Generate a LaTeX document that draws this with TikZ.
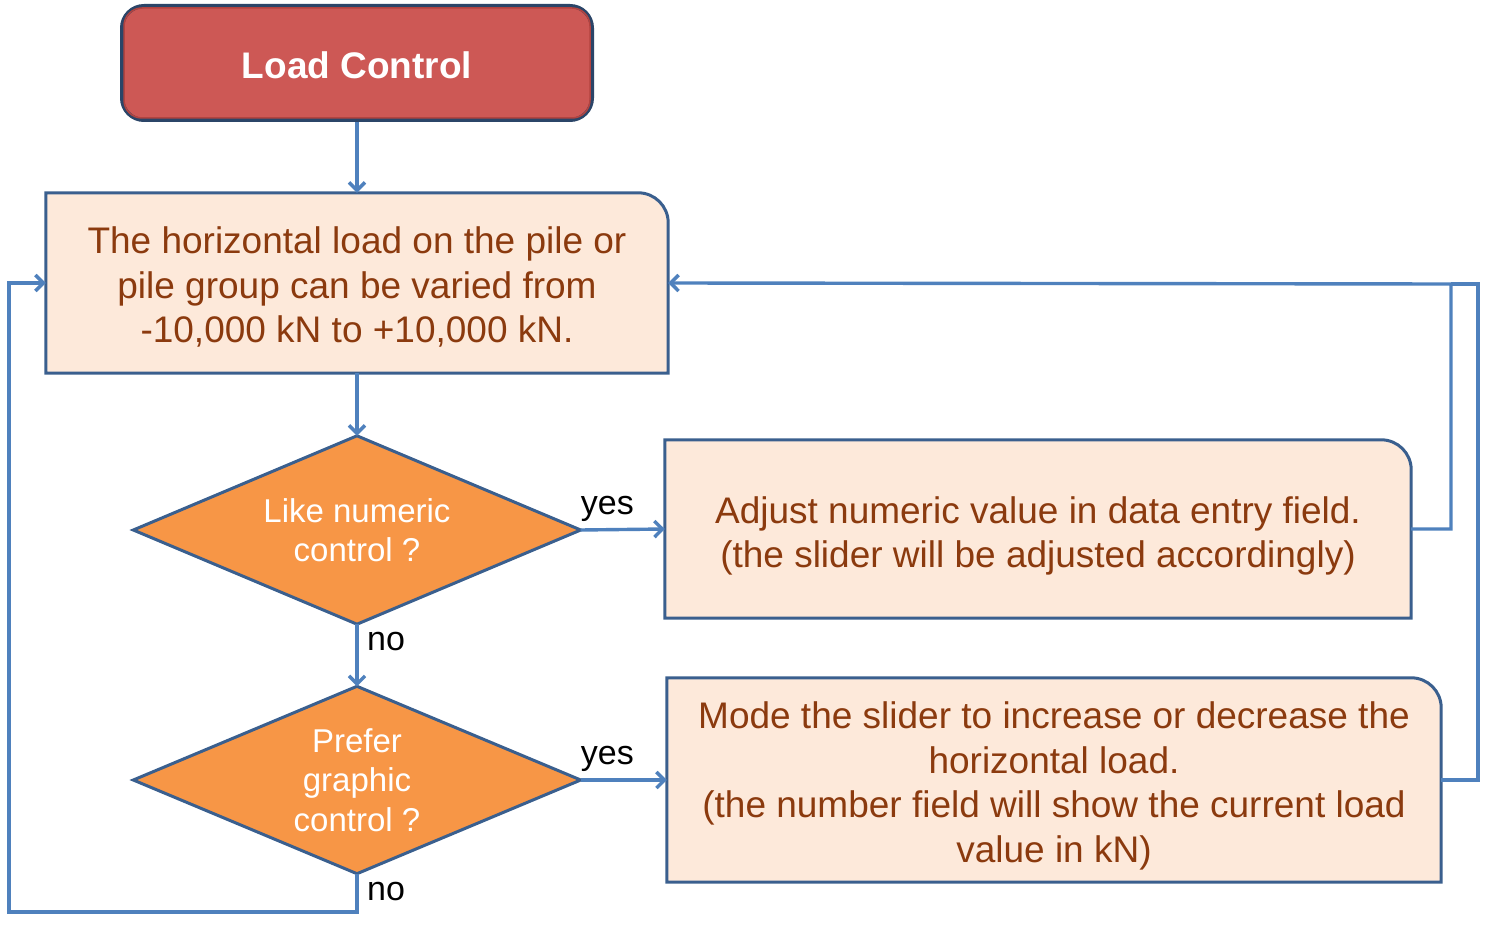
\documentclass[tikz,border=0pt]{standalone}
\usepackage{fontspec}
\setmainfont{Liberation Sans}
\usetikzlibrary{arrows.meta,backgrounds,calc}
\definecolor{conn}{HTML}{4F81BD}
\definecolor{edge}{HTML}{3A5F8E}
\definecolor{boxfill}{HTML}{FDE9DA}
\definecolor{boxtext}{HTML}{8B3A0E}
\definecolor{diafill}{HTML}{F79646}
\definecolor{loadfill}{HTML}{CD5855}
\definecolor{loadedge}{HTML}{2B4568}
\definecolor{loadinner}{HTML}{B2433F}
\begin{document}
\begin{tikzpicture}[x=1pt,y=-1pt,
  connector/.style={draw=conn, line width=3.4pt},
  arrowed/.style={connector, -{Straight Barb[length=8pt,width=16pt]}},
  frame/.style={rectangle, inner sep=0pt},
  textbox/.style={rectangle, inner sep=0pt, align=center, text=boxtext, font=\fontsize{37}{44.5}\selectfont},
  decision/.style={rectangle, inner sep=0pt, align=center, text=white, font=\fontsize{33}{39.5}\selectfont},
  boxshape/.style={draw=edge, fill=boxfill, line width=3pt},
  diashape/.style={draw=edge, fill=diafill, line width=3pt},
  lbl/.style={font=\fontsize{34}{40}\selectfont, text=black, inner sep=0pt},
  startbox/.style={draw=loadedge, fill=loadfill, line width=4pt, rounded corners=22pt, text=white, font=\bfseries\fontsize{37}{44}\selectfont},
]
\useasboundingbox (0,0) rectangle (1488,925);

\node[startbox, minimum width=470pt, minimum height=114pt] (load) at (357,63) {};
\draw[loadinner, line width=1.5pt, rounded corners=18pt]
  ([shift={(4pt,-4pt)}]load.north west) rectangle ([shift={(-4pt,4pt)}]load.south east);
\node[text=white, font=\bfseries\fontsize{37}{44}\selectfont, inner sep=0pt] (loadtext) at ([yshift=-2pt]load.center) {Load Control};

\node[frame, minimum width=622pt, minimum height=180pt] (b1) at (357,283) {};
\node[frame, minimum width=746pt, minimum height=178pt] (b2) at (1038,529) {};
\node[frame, minimum width=774pt, minimum height=204pt] (b3) at (1054,780) {};

\node[textbox] (b1text) at ([yshift=-4pt]b1.center)
  {The horizontal load on the pile or\\pile group can be varied from\\-10,000 kN to +10,000 kN.};
\node[textbox] (b2text) at ([yshift=-7pt]b2.center)
  {Adjust numeric value in data entry field.\\(the slider will be adjusted accordingly)};
\node[textbox] (b3text) at ([yshift=-6pt]b3.center)
  {Mode the slider to increase or decrease the\\horizontal load.\\(the number field will show the current load\\value in kN)};

\node[decision, minimum width=447pt, minimum height=188pt] (d1) at (357,530)
  {Like numeric\\control ?};
\node[decision, minimum width=447pt, minimum height=187pt] (d2) at (357,780)
  {Prefer\\graphic\\control ?};

\begin{scope}[on background layer]
  \path[boxshape] (b1.south west) -- (b1.north west) -- ([xshift=-30pt]b1.north east)
    arc[start angle=90,end angle=0,radius=30pt] -- (b1.south east) -- cycle;
  \path[boxshape] (b2.south west) -- (b2.north west) -- ([xshift=-30pt]b2.north east)
    arc[start angle=90,end angle=0,radius=30pt] -- (b2.south east) -- cycle;
  \path[boxshape] (b3.south west) -- (b3.north west) -- ([xshift=-30pt]b3.north east)
    arc[start angle=90,end angle=0,radius=30pt] -- (b3.south east) -- cycle;
  \path[diashape] (d1.north) -- (d1.east) -- (d1.south) -- (d1.west) -- cycle;
  \path[diashape] (d2.north) -- (d2.east) -- (d2.south) -- (d2.west) -- cycle;
\end{scope}

\coordinate (c1) at (9,912);
\coordinate (c2) at (1451,284);
\coordinate (c3) at (1478,284);

\draw[arrowed] (load.south) -- (b1.north);
\draw[arrowed] (b1.south) -- (d1.north);
\draw[arrowed] (d1.east) -- (b2.west);
\draw[arrowed] (d1.south) -- (d2.north);
\draw[arrowed] (d2.east) -- (b3.west);
\draw[arrowed] (d2.south) |- (c1) |- (b1.west);
\draw[connector] (b3.east) -| (c3) -- (c2);
\draw[arrowed] (b2.east) -| (c2) -- (b1.east);

\node[lbl, anchor=south west] (yes1) at ([yshift=8pt]d1.east) {yes};
\node[lbl, anchor=south west] (yes2) at ([yshift=8pt]d2.east) {yes};
\node[lbl, anchor=north west] (no1) at ([xshift=10pt,yshift=-8pt]d1.south) {no};
\node[lbl, anchor=north west] (no2) at ([xshift=10pt,yshift=-8pt]d2.south) {no};
\end{tikzpicture}
\end{document}
